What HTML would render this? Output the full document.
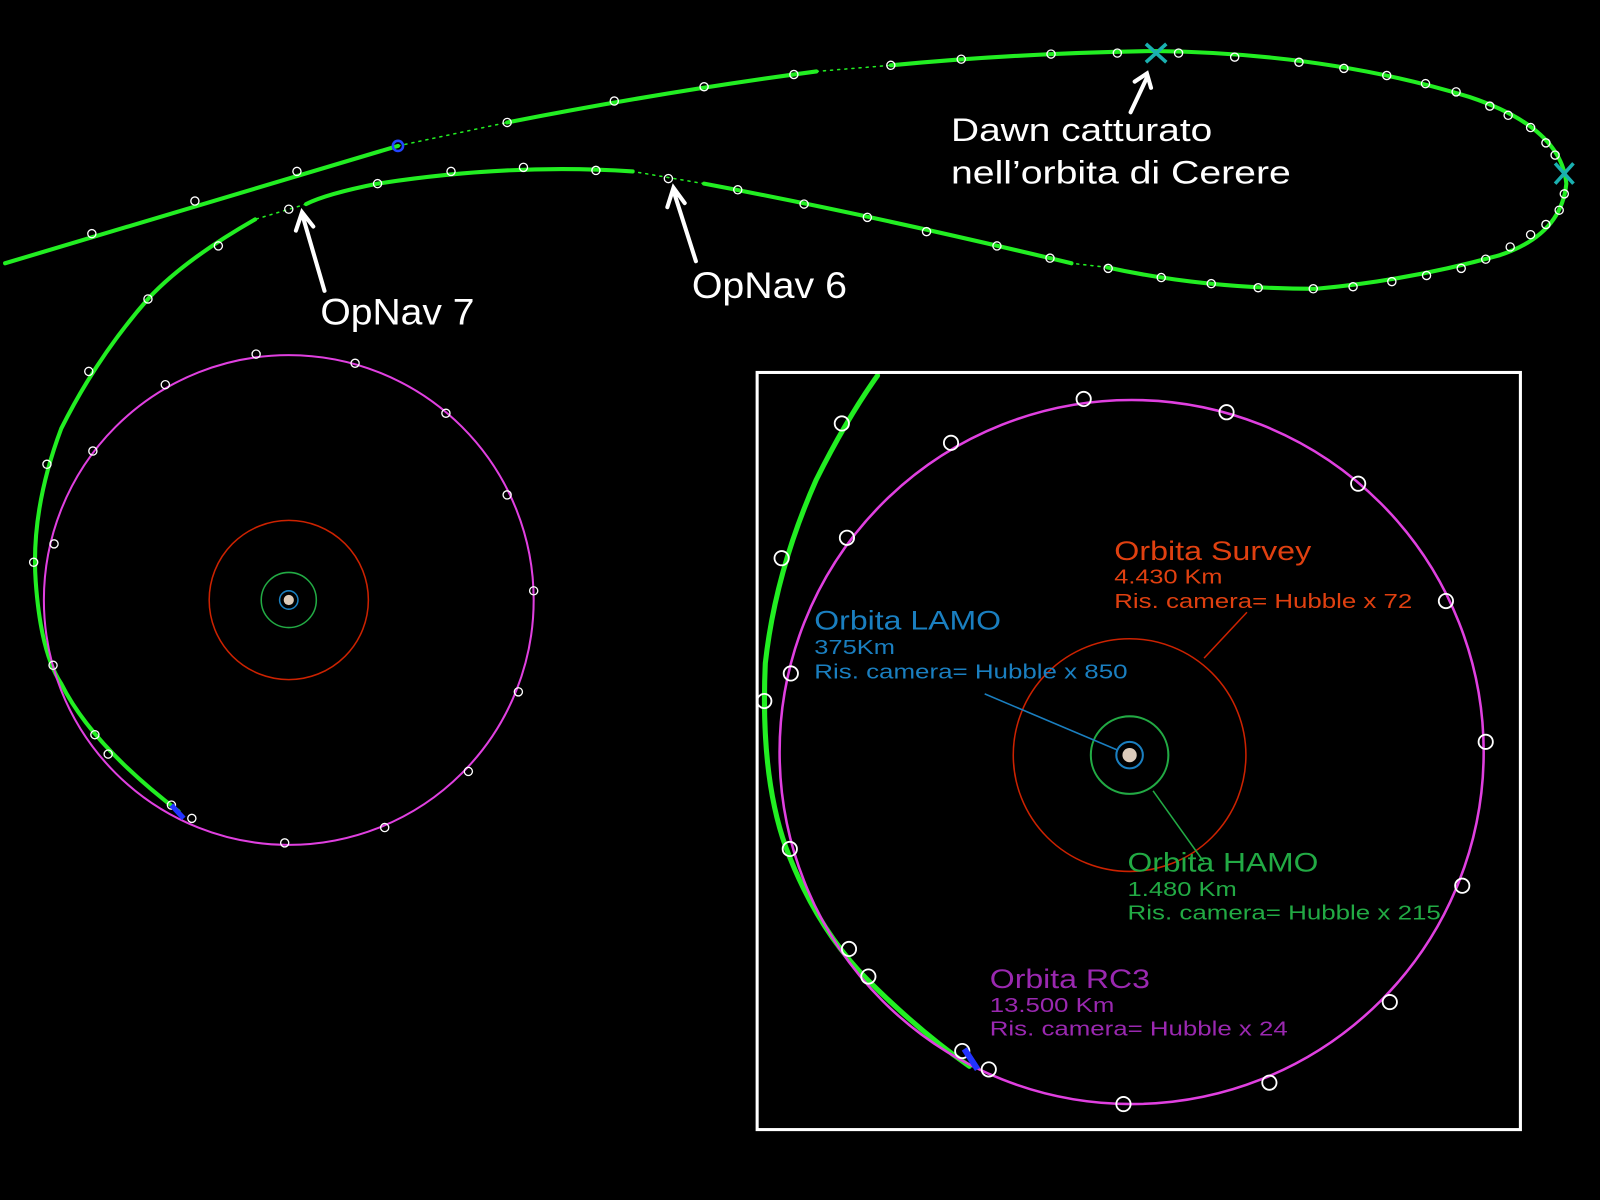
<!DOCTYPE html>
<html><head><meta charset="utf-8"><style>
html,body{margin:0;padding:0;background:#000;}
svg{display:block}
</style></head><body>
<svg width="1600" height="1200" viewBox="0 0 1568 1176" preserveAspectRatio="none" xmlns="http://www.w3.org/2000/svg">
<rect width="1568" height="1176" fill="#000"/>
<g fill="none" stroke="#22ee22" stroke-linecap="round">
<path d="M5,258 L390,143" stroke-width="4"/>
<path d="M390,143 L497,120" stroke-width="1.5" stroke-dasharray="2,5"/>
<path d="M497,120 Q650,90 800,70" stroke-width="4"/>
<path d="M800,70 L873,64" stroke-width="1.5" stroke-dasharray="2,5"/>
<path d="M873,64 Q1000,52 1130,50 Q1300,52 1440,95 Q1530,125 1535,180 Q1530,230 1470,250 Q1380,275 1290,283 Q1180,283 1085,262" stroke-width="4"/>
<path d="M1085,262 L1050,258" stroke-width="1.5" stroke-dasharray="2,5"/>
<path d="M1050,258 Q850,210 690,180" stroke-width="4"/>
<path d="M690,180 L620,168" stroke-width="1.5" stroke-dasharray="2,5"/>
<path d="M620,168 Q500,160 370,180 Q320,190 300,200" stroke-width="4"/>
<path d="M300,200 L250,215" stroke-width="1.5" stroke-dasharray="2,5"/>
<path d="M250,215 Q180,255 145,293 Q95,350 60,420 Q30,500 35,570 Q40,640 60,670 Q90,730 175,795" stroke-width="4"/>
<path d="M860,368 Q830,410 800,470 Q760,560 750,650 Q745,760 770,830 Q800,910 850,960 Q900,1010 950,1045" stroke-width="5"/>
</g>
<circle cx="283" cy="588" r="240" fill="none" stroke="#e040e0" stroke-width="2"/>
<circle cx="283" cy="588" r="78" fill="none" stroke="#cc2200" stroke-width="1.5"/>
<circle cx="283" cy="588" r="27" fill="none" stroke="#22aa44" stroke-width="1.5"/>
<circle cx="283" cy="588" r="9" fill="none" stroke="#1a7fc0" stroke-width="1.5"/>
<circle cx="283" cy="588" r="5" fill="#ddccbb"/>
<rect x="742" y="365" width="748" height="742" fill="none" stroke="#fff" stroke-width="3"/>
<circle cx="1109" cy="737" r="345" fill="none" stroke="#e040e0" stroke-width="2.5"/>
<circle cx="1107" cy="740" r="114" fill="none" stroke="#cc2200" stroke-width="1.5"/>
<circle cx="1107" cy="740" r="38" fill="none" stroke="#22aa44" stroke-width="2"/>
<circle cx="1107" cy="740" r="13" fill="none" stroke="#1a7fc0" stroke-width="2"/>
<circle cx="1107" cy="740" r="7" fill="#ddccbb"/>
<line x1="1180" y1="645" x2="1222" y2="600" stroke="#cc2200" stroke-width="1.5"/>
<line x1="965" y1="680" x2="1095" y2="735" stroke="#1a7fc0" stroke-width="1.5"/>
<line x1="1130" y1="775" x2="1180" y2="845" stroke="#22aa44" stroke-width="1.5"/>
<g fill="none" stroke="#fff" stroke-width="1.3">
<circle cx="90" cy="229" r="4"/><circle cx="191" cy="197" r="4"/><circle cx="291" cy="168" r="4"/>
<circle cx="497" cy="120" r="4"/><circle cx="602" cy="99" r="4"/><circle cx="690" cy="85" r="4"/><circle cx="778" cy="73" r="4"/>
<circle cx="873" cy="64" r="4"/><circle cx="942" cy="58" r="4"/><circle cx="1030" cy="53" r="4"/><circle cx="1095" cy="52" r="4"/>
<circle cx="1155" cy="52" r="4"/><circle cx="1210" cy="56" r="4"/><circle cx="1273" cy="61" r="4"/><circle cx="1317" cy="67" r="4"/>
<circle cx="1359" cy="74" r="4"/><circle cx="1397" cy="82" r="4"/><circle cx="1427" cy="90" r="4"/><circle cx="1460" cy="104" r="4"/>
<circle cx="1478" cy="113" r="4"/><circle cx="1500" cy="125" r="4"/><circle cx="1515" cy="140" r="4"/><circle cx="1524" cy="152" r="4"/>
<circle cx="1533" cy="190" r="4"/><circle cx="1528" cy="206" r="4"/><circle cx="1515" cy="220" r="4"/><circle cx="1500" cy="230" r="4"/>
<circle cx="1480" cy="242" r="4"/><circle cx="1456" cy="254" r="4"/><circle cx="1432" cy="263" r="4"/><circle cx="1398" cy="270" r="4"/>
<circle cx="1364" cy="276" r="4"/><circle cx="1326" cy="281" r="4"/><circle cx="1287" cy="283" r="4"/><circle cx="1233" cy="282" r="4"/>
<circle cx="1187" cy="278" r="4"/><circle cx="1138" cy="272" r="4"/><circle cx="1086" cy="263" r="4"/><circle cx="1029" cy="253" r="4"/>
<circle cx="977" cy="241" r="4"/><circle cx="908" cy="227" r="4"/><circle cx="850" cy="213" r="4"/><circle cx="788" cy="200" r="4"/>
<circle cx="723" cy="186" r="4"/><circle cx="655" cy="175" r="4"/><circle cx="584" cy="167" r="4"/><circle cx="513" cy="164" r="4"/>
<circle cx="442" cy="168" r="4"/><circle cx="370" cy="180" r="4"/><circle cx="283" cy="205" r="4"/><circle cx="214" cy="241" r="4"/>
<circle cx="145" cy="293" r="4"/><circle cx="87" cy="364" r="4"/><circle cx="46" cy="455" r="4"/><circle cx="33" cy="551" r="4"/>
<circle cx="52" cy="652" r="4"/><circle cx="93" cy="720" r="4"/><circle cx="106" cy="739" r="4"/><circle cx="168" cy="789" r="4"/>
<circle cx="251" cy="347" r="4"/><circle cx="348" cy="356" r="4"/><circle cx="437" cy="405" r="4"/><circle cx="497" cy="485" r="4"/>
<circle cx="523" cy="579" r="4"/><circle cx="508" cy="678" r="4"/><circle cx="459" cy="756" r="4"/><circle cx="377" cy="811" r="4"/>
<circle cx="279" cy="826" r="4"/><circle cx="188" cy="802" r="4"/><circle cx="162" cy="377" r="4"/><circle cx="91" cy="442" r="4"/><circle cx="53" cy="533" r="4"/>
</g>
<g fill="none" stroke="#fff" stroke-width="1.8">
<circle cx="1062" cy="391" r="7"/><circle cx="1202" cy="404" r="7"/><circle cx="1331" cy="474" r="7"/><circle cx="1417" cy="589" r="7"/>
<circle cx="1456" cy="727" r="7"/><circle cx="1433" cy="868" r="7"/><circle cx="1362" cy="982" r="7"/><circle cx="1244" cy="1061" r="7"/>
<circle cx="1101" cy="1082" r="7"/><circle cx="969" cy="1048" r="7"/><circle cx="943" cy="1030" r="7"/><circle cx="851" cy="957" r="7"/>
<circle cx="832" cy="930" r="7"/><circle cx="774" cy="832" r="7"/><circle cx="775" cy="660" r="7"/><circle cx="766" cy="547" r="7"/>
<circle cx="830" cy="527" r="7"/><circle cx="932" cy="434" r="7"/><circle cx="825" cy="415" r="7"/><circle cx="749" cy="687" r="7"/>
</g>
<circle cx="390" cy="143" r="5" fill="none" stroke="#2244ff" stroke-width="2.5"/>
<line x1="168" y1="789" x2="180" y2="802" stroke="#2233ff" stroke-width="5"/>
<line x1="945" y1="1028" x2="958" y2="1048" stroke="#2233ff" stroke-width="6"/>
<g stroke="#1ab0b0" stroke-width="3.5"><path d="M1123,43 L1143,61 M1143,43 L1123,61"/><path d="M1524,160 L1542,180 M1542,160 L1524,180"/></g>
<g stroke="#fff" stroke-width="4" fill="none" stroke-linecap="round">
<path d="M1108,110 L1124,76 M1112,80 L1124,72 L1128,86"/>
<path d="M318,285 L297,213 M290,226 L296,208 L307,222"/>
<path d="M682,256 L661,190 M654,203 L660,184 L671,199"/>
</g>
<g font-family="Liberation Sans, sans-serif" fill="#fff" font-size="32" lengthAdjust="spacingAndGlyphs">
<text x="932" y="138" textLength="256" lengthAdjust="spacingAndGlyphs">Dawn catturato</text>
<text x="932" y="180" textLength="333" lengthAdjust="spacingAndGlyphs">nell’orbita di Cerere</text>
<text x="314" y="318" font-size="36" textLength="151" lengthAdjust="spacingAndGlyphs">OpNav 7</text>
<text x="678" y="292" font-size="36" textLength="152" lengthAdjust="spacingAndGlyphs">OpNav 6</text>
</g>
<g font-family="Liberation Sans, sans-serif" font-size="20">
<text x="1092" y="549" font-size="26" fill="#e04010" textLength="193" lengthAdjust="spacingAndGlyphs">Orbita Survey</text>
<text x="1092" y="572" fill="#e04010" textLength="106" lengthAdjust="spacingAndGlyphs">4.430 Km</text>
<text x="1092" y="596" fill="#e04010" textLength="292" lengthAdjust="spacingAndGlyphs">Ris. camera= Hubble x 72</text>
<text x="798" y="617" font-size="26" fill="#1a7fc0" textLength="183" lengthAdjust="spacingAndGlyphs">Orbita LAMO</text>
<text x="798" y="641" fill="#1a7fc0" textLength="79" lengthAdjust="spacingAndGlyphs">375Km</text>
<text x="798" y="665" fill="#1a7fc0" textLength="307" lengthAdjust="spacingAndGlyphs">Ris. camera= Hubble x 850</text>
<text x="1105" y="854" font-size="26" fill="#22aa44" textLength="187" lengthAdjust="spacingAndGlyphs">Orbita HAMO</text>
<text x="1105" y="878" fill="#22aa44" textLength="107" lengthAdjust="spacingAndGlyphs">1.480 Km</text>
<text x="1105" y="901" fill="#22aa44" textLength="307" lengthAdjust="spacingAndGlyphs">Ris. camera= Hubble x 215</text>
<text x="970" y="968" font-size="26" fill="#9a28b0" textLength="157" lengthAdjust="spacingAndGlyphs">Orbita RC3</text>
<text x="970" y="992" fill="#9a28b0" textLength="122" lengthAdjust="spacingAndGlyphs">13.500 Km</text>
<text x="970" y="1015" fill="#9a28b0" textLength="292" lengthAdjust="spacingAndGlyphs">Ris. camera= Hubble x 24</text>
</g>
</svg>
</body></html>
